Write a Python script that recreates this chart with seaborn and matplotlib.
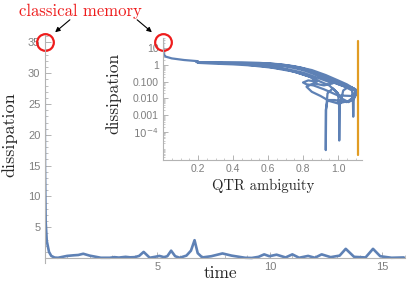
import numpy as np
import pandas as pd
import matplotlib
matplotlib.use("Agg")
import matplotlib.pyplot as plt
import matplotlib.ticker as mticker
import seaborn as sns

# main curve: dissipation over time
time = [0.0, 0.02, 0.05, 0.1, 0.2, 0.3, 0.45, 0.6, 0.8, 1.0, 1.3, 1.5, 1.72, 2.0, 2.5,
        2.9, 3.1, 3.3, 3.6, 3.8, 4.0, 4.2, 4.4, 4.67, 4.9, 5.1, 5.3, 5.45, 5.62, 5.8,
        6.0, 6.3, 6.5, 6.66, 6.8, 7.0, 7.4, 7.9, 8.3, 8.9, 9.2, 9.5, 9.75, 9.98, 10.3,
        10.7, 11.0, 11.3, 11.7, 12.0, 12.3, 12.7, 13.1, 13.37, 13.74, 14.25, 14.58,
        14.9, 15.4, 15.95]
dissipation = [36.0, 15.0, 6.0, 2.8, 1.0, 0.35, 0.08, 0.05, 0.2, 0.35, 0.45, 0.5, 0.7,
               0.4, 0.05, 0.05, 0.15, 0.08, 0.2, 0.12, 0.15, 0.35, 1.0, 0.05, 0.2, 0.35,
               0.15, 0.3, 1.2, 0.3, 0.05, 0.4, 1.2, 2.9, 0.8, 0.1, 0.3, 0.75, 0.4, 0.05,
               0.02, 0.2, 0.6, 0.3, 0.55, 0.1, 0.6, 0.05, 0.35, 0.05, 0.6, 0.15, 0.4,
               1.5, 0.2, 0.1, 1.5, 0.3, 0.05, 0.1]

# inset: dissipation vs QTR ambiguity (parametric path, in time order)
ambiguity = [
    0.0, 0.0, 0.001, 0.004, 0.015, 0.05, 0.12, 0.2, 0.19, 0.21,
    0.3, 0.4, 0.5, 0.6, 0.7, 0.8, 0.88, 0.95, 1.02, 1.07,
    1.1, 1.105, 1.09, 1.06, 1.02, 0.99, 0.95, 0.9, 0.85, 0.75,
    0.62, 0.5, 0.4, 0.3, 0.2, 0.3, 0.45, 0.55, 0.65, 0.75,
    0.85, 0.93, 1.0, 1.05, 1.08, 1.1, 1.09, 1.05, 0.98, 0.94,
    0.93, 0.93, 0.932, 0.94, 0.97, 1.0, 1.006, 1.007, 1.01, 1.03,
    1.06, 1.09, 1.1, 1.08, 1.0, 0.92, 0.86, 0.82, 0.8, 0.83,
    0.88, 0.84, 0.78, 0.7, 0.58, 0.47, 0.45, 0.5, 0.6, 0.7,
    0.8, 0.87, 0.95, 1.03, 1.09, 1.11, 1.1, 1.06, 1.0, 0.95,
    0.9, 0.85, 0.82, 0.86, 0.92, 0.97, 0.9, 0.8, 0.7, 0.6,
    0.52, 0.55, 0.65, 0.75, 0.83, 0.9, 0.98, 1.04, 1.08, 1.085,
    1.087, 1.089, 1.09]
dissipation_inset = [
    36.0, 20.0, 8.0, 4.5, 3.2, 2.5, 2.0, 1.7, 1.5, 1.45,
    1.35, 1.25, 1.2, 1.1, 0.85, 0.5, 0.25, 0.11, 0.06, 0.04,
    0.03, 0.02, 0.009, 0.006, 0.01, 0.025, 0.06, 0.1, 0.18, 0.4,
    0.7, 0.95, 1.1, 1.2, 1.35, 1.5, 1.45, 1.35, 1.15, 0.85,
    0.5, 0.25, 0.12, 0.07, 0.045, 0.025, 0.01, 0.006, 0.008, 0.008,
    0.002, 8e-6, 0.002, 0.02, 0.04, 0.02, 0.004, 3e-5, 0.004, 0.03,
    0.05, 0.04, 0.025, 0.014, 0.015, 0.035, 0.06, 0.07, 0.09, 0.12,
    0.1, 0.2, 0.32, 0.55, 0.85, 1.05, 1.2, 1.3, 1.25, 1.0,
    0.65, 0.35, 0.15, 0.07, 0.04, 0.03, 0.015, 0.007, 0.005, 0.007,
    0.014, 0.025, 0.05, 0.08, 0.06, 0.08, 0.15, 0.35, 0.6, 0.9,
    1.1, 1.25, 1.05, 0.75, 0.45, 0.22, 0.09, 0.05, 0.03, 0.008,
    8e-4, 0.006, 0.012]

ytick_main = [5, 10, 15, 20, 25, 30, 35]
xtick_main = [5, 10, 15]
xtick_inset = [0.2, 0.4, 0.6, 0.8, 1.0]
ytick_inset = [10, 1, 0.1, 0.01, 0.001, 1e-4]
ytick_inset_labels = ["10", "1", "0.100", "0.010", "0.001", r"$10^{-4}$"]
bound = 1.114

blue = "#5E81B5"
orange = "#E19C24"
red = "#EE1C1C"
axis_gray = "#B3B3B3"
label_gray = "#7F7F7F"

sns.set_style("ticks")
plt.rcParams["font.family"] = ["Liberation Sans", "DejaVu Sans"]

fig = plt.figure(figsize=(4.15, 2.85), dpi=100)

# main plot
ax = fig.add_axes([44.5 / 415, 1 - 263 / 285, (405 - 44.5) / 415, (263 - 35) / 285])
main_df = pd.DataFrame({"time": time, "dissipation": dissipation})
sns.lineplot(data=main_df, x="time", y="dissipation", ax=ax, color=blue, lw=1.9,
             sort=False, estimator=None)
ax.set_xlim(0, 16)
ax.set_ylim(-0.8, 36.2)
for s in ["top", "right"]:
    ax.spines[s].set_visible(False)
ax.spines["bottom"].set_position(("data", 0))
ax.spines["left"].set_position(("data", 0))
for s in ["bottom", "left"]:
    ax.spines[s].set_color(axis_gray)
    ax.spines[s].set_linewidth(0.8)
ax.set_xticks(xtick_main)
ax.set_yticks(ytick_main)
ax.xaxis.set_minor_locator(mticker.MultipleLocator(1))
ax.yaxis.set_minor_locator(mticker.MultipleLocator(1))
ax.tick_params(which="major", direction="in", length=4, width=0.7, color=axis_gray,
               labelsize=8, labelcolor=label_gray, pad=3)
ax.tick_params(which="minor", direction="in", length=2, width=0.6, color=axis_gray)
ax.set_xlabel("")
ax.set_ylabel("")
fig.text(220 / 415, 1 - 273 / 285, "time", fontfamily="cmr10", fontsize=12.5,
         ha="center", va="center")
fig.text(9 / 415, 1 - 135 / 285, "dissipation", fontfamily="cmr10", fontsize=13,
         ha="center", va="center", rotation=90)
ax.plot([0], [35], marker="o", ms=12, mfc="none", mec=red, mew=1.6, clip_on=False)

# inset
ymin, ymax = 10 ** -5.69, 10 ** 1.62
ins = fig.add_axes([163 / 415, 1 - 160 / 285, (362 - 163) / 415, (160 - 38) / 285])
ins_df = pd.DataFrame({"ambiguity": ambiguity, "dissipation": dissipation_inset})
sns.lineplot(data=ins_df, x="ambiguity", y="dissipation", ax=ins, color=blue, lw=1.6,
             sort=False, estimator=None)
ins.plot([bound, bound], [10 ** 1.45, 10 ** -5.4], color=orange, lw=1.6)
ins.set_yscale("log")
ins.set_xlim(0, 1.137)
ins.set_ylim(ymin, ymax)
ins.patch.set_alpha(0)
for s in ["top", "right"]:
    ins.spines[s].set_visible(False)
for s in ["bottom", "left"]:
    ins.spines[s].set_color(axis_gray)
    ins.spines[s].set_linewidth(0.8)
ins.set_xticks(xtick_inset)
ins.xaxis.set_minor_locator(mticker.MultipleLocator(0.05))
ins.set_yticks(ytick_inset)
ins.set_yticklabels(ytick_inset_labels)
ins.yaxis.set_minor_locator(mticker.LogLocator(base=10, subs=np.arange(2, 10), numticks=20))
ins.yaxis.set_minor_formatter(mticker.NullFormatter())
ins.tick_params(which="major", direction="in", length=3.5, width=0.7, color=axis_gray,
                labelsize=7.5, labelcolor=label_gray, pad=3)
ins.tick_params(which="minor", direction="in", length=1.5, width=0.5, color=axis_gray)
ins.set_xlabel("")
ins.set_ylabel("")
fig.text(263 / 415, 1 - 186 / 285, "QTR ambiguity", fontfamily="cmr10", fontsize=10.5,
         ha="center", va="center")
fig.text(113 / 415, 1 - 93 / 285, "dissipation", fontfamily="cmr10", fontsize=12.5,
         ha="center", va="center", rotation=90)
ins.plot([0], [24], marker="o", ms=12, mfc="none", mec=red, mew=1.6, clip_on=False)

# annotation
fig.text(80 / 415, 1 - 11 / 285, "classical memory", fontfamily="cmr10", fontsize=12,
         color=red, ha="center", va="center")
ax.annotate("", xy=(53, 285 - 34), xytext=(72, 285 - 18), xycoords="figure pixels",
            textcoords="figure pixels",
            arrowprops=dict(arrowstyle="-|>", color="k", lw=0.8, mutation_scale=7))
ax.annotate("", xy=(154, 285 - 34), xytext=(135, 285 - 18), xycoords="figure pixels",
            textcoords="figure pixels",
            arrowprops=dict(arrowstyle="-|>", color="k", lw=0.8, mutation_scale=7))

fig.savefig("out.png", dpi=100)
